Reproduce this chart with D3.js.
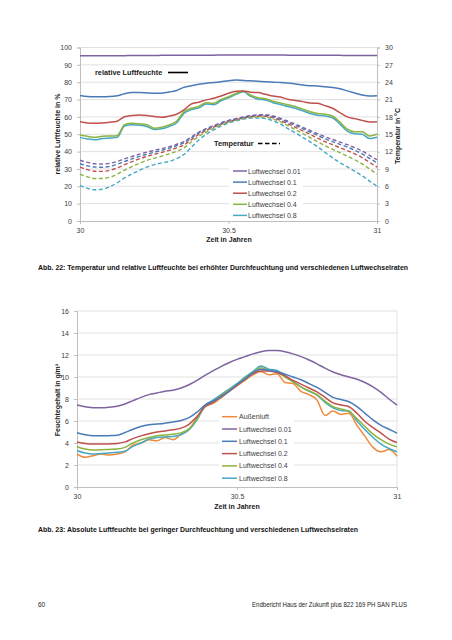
<!DOCTYPE html>
<html><head><meta charset="utf-8">
<script src="https://cdn.jsdelivr.net/npm/d3@7"></script>
<style>
html,body{margin:0;padding:0;background:#fff;}
svg text{font-family:"Liberation Sans",Arial,sans-serif;}
</style></head>
<body>
<svg id="c" width="452" height="640"></svg>
<script>
// ---------- DATA ----------
const time = [30,30.025,30.05,30.075,30.1,30.125,30.15,30.175,30.2,30.225,30.25,30.275,30.3,30.325,30.35,30.375,30.4,30.425,30.45,30.475,30.5,30.525,30.55,30.575,30.6,30.625,30.65,30.675,30.7,30.725,30.75,30.775,30.8,30.825,30.85,30.875,30.9,30.925,30.95,30.975,31];
const seriesNames = ["Luftwechsel 0.01","Luftwechsel 0.1","Luftwechsel 0.2","Luftwechsel 0.4","Luftwechsel 0.8"];
const seriesColors = ["#7f63a1","#4a7ab8","#c0504d","#8db33f","#45a8c4"];
const outdoorName = "Außenluft";
const outdoorColor = "#f08a3a";

// Chart 1: relative humidity (%)
const rh001 = [95.3,95.3,95.3,95.3,95.3,95.3,95.3,95.4,95.4,95.4,95.4,95.5,95.5,95.5,95.5,95.6,95.6,95.6,95.6,95.7,95.7,95.7,95.7,95.7,95.7,95.7,95.7,95.7,95.6,95.6,95.6,95.6,95.5,95.5,95.5,95.5,95.4,95.4,95.4,95.4,95.4];
const rh01 = [72.4,71.8,71.6,71.6,71.7,72.2,73.4,74.0,74.0,73.8,73.6,73.7,74.3,75.2,77.0,78.0,78.8,79.4,79.8,80.3,80.9,81.2,81.0,80.8,80.6,80.2,80.0,79.8,79.6,79.0,78.4,78.0,77.8,77.4,77.0,76.2,75.0,73.8,72.6,72.0,72.2];
const rh02 = [57.2,56.5,56.3,56.5,56.9,57.5,60.1,60.8,61.1,60.8,60.2,59.8,60.5,61.5,64.0,67.5,68.5,69.8,70.7,72.0,73.6,74.8,75.0,74.2,74.0,73.0,72.0,71.5,70.2,69.5,68.8,68.0,67.8,66.5,65.0,62.5,60.0,59.0,58.0,57.0,57.2];
const rh04 = [49.6,48.8,48.2,48.8,49.0,49.2,55.5,56.3,56.0,55.5,53.5,54.0,55.3,57.5,63.0,65.0,66.0,68.2,67.8,70.0,71.6,73.5,75.0,72.5,71.0,70.5,69.0,68.0,67.0,66.0,64.5,63.0,62.0,61.5,60.5,57.0,53.0,51.5,51.5,49.0,50.0];
const rh08 = [48.2,47.3,46.8,47.5,47.8,48.2,54.8,55.5,55.2,54.5,52.8,53.2,54.5,56.5,62.0,64.2,65.2,67.5,67.0,69.3,71.0,73.0,74.5,71.8,70.2,69.8,68.2,67.2,66.0,65.0,63.5,62.0,61.0,60.5,59.5,56.0,51.8,50.3,50.0,47.5,48.3];
// Chart 1: temperature (°C)
const t001 = [10.5,10.14,9.9,9.84,9.96,10.29,10.74,11.16,11.55,11.91,12.21,12.51,12.84,13.26,13.74,14.55,15.36,15.99,16.5,16.98,17.4,17.7,18.0,18.24,18.36,18.36,18.15,17.76,17.25,16.74,16.2,15.66,15.09,14.55,14.1,13.65,13.2,12.69,12.09,11.34,10.59];
const t01 = [9.9,9.54,9.33,9.3,9.45,9.81,10.29,10.74,11.16,11.55,11.88,12.21,12.57,13.02,13.53,14.37,15.21,15.87,16.38,16.89,17.31,17.61,17.91,18.15,18.27,18.27,18.03,17.61,17.07,16.53,15.96,15.39,14.79,14.22,13.74,13.26,12.78,12.24,11.61,10.83,10.05];
const t02 = [9.3,8.88,8.61,8.58,8.76,9.18,9.75,10.26,10.74,11.16,11.52,11.85,12.21,12.66,13.17,14.07,14.97,15.66,16.23,16.74,17.19,17.52,17.82,18.06,18.15,18.12,17.85,17.4,16.8,16.2,15.6,14.97,14.34,13.71,13.2,12.69,12.18,11.61,10.95,10.14,9.33];
const t04 = [8.1,7.62,7.35,7.35,7.56,8.1,8.79,9.42,9.99,10.47,10.86,11.22,11.61,12.06,12.63,13.65,14.64,15.42,16.05,16.62,17.1,17.43,17.73,17.94,18.0,17.94,17.64,17.13,16.47,15.81,15.12,14.43,13.71,13.02,12.42,11.82,11.22,10.59,9.87,9.0,8.13];
const t08 = [6.15,5.64,5.4,5.49,5.91,6.6,7.44,8.16,8.76,9.33,9.75,10.05,10.29,10.77,11.49,12.75,14.01,15.0,15.75,16.41,16.95,17.31,17.61,17.79,17.82,17.7,17.34,16.74,15.99,15.24,14.46,13.68,12.84,11.85,10.95,10.11,9.36,8.61,7.8,6.9,6.0];

// Chart 2: absolute humidity (g/m³)
const ahOut = [3.0,2.7,2.85,3.0,2.9,3.0,3.2,3.8,4.0,4.3,4.2,4.5,4.3,4.8,5.2,6.3,7.3,7.6,8.1,8.7,9.2,9.7,10.2,10.5,10.2,10.3,9.5,9.4,8.7,8.4,7.9,6.5,6.9,6.6,6.7,5.6,4.6,3.6,3.2,3.4,2.8];
const ah001 = [7.45,7.3,7.2,7.2,7.25,7.35,7.55,7.85,8.15,8.4,8.55,8.7,8.8,9.0,9.3,9.7,10.15,10.55,10.95,11.3,11.6,11.85,12.1,12.3,12.4,12.4,12.3,12.1,11.85,11.55,11.2,10.8,10.45,10.2,10.0,9.8,9.5,9.1,8.6,8.0,7.45];
const ah01 = [4.94,4.75,4.65,4.65,4.67,4.7,4.95,5.25,5.5,5.65,5.72,5.8,5.9,6.05,6.3,6.8,7.45,7.8,8.2,8.7,9.3,9.8,10.4,10.7,10.6,10.5,10.25,10.0,9.75,9.4,9.05,8.6,8.15,7.95,7.75,7.3,6.7,6.1,5.6,5.25,4.9];
const ah02 = [4.1,3.95,3.9,3.9,3.92,3.95,4.1,4.4,4.65,4.85,5.0,5.1,5.2,5.35,5.7,6.4,7.3,7.7,8.25,8.7,9.25,9.8,10.3,10.55,10.55,10.4,10.1,9.7,9.35,9.0,8.65,8.15,7.65,7.45,7.3,6.7,5.95,5.4,4.9,4.35,4.05];
const ah04 = [3.66,3.45,3.36,3.38,3.42,3.45,3.6,4.0,4.3,4.5,4.65,4.72,4.8,4.92,5.3,6.2,7.35,7.7,8.3,8.8,9.3,9.9,10.4,10.85,10.6,10.45,10.0,9.55,9.1,8.75,8.4,7.8,7.3,7.1,6.85,6.2,5.5,4.8,4.3,3.9,3.66];
const ah08 = [3.3,3.1,3.0,3.05,3.1,3.15,3.25,3.7,4.0,4.35,4.5,4.55,4.6,4.75,5.2,6.1,7.4,7.9,8.4,8.9,9.4,10.0,10.5,11.0,10.7,10.6,10.1,9.6,9.1,8.7,8.35,7.7,7.2,6.95,6.9,6.0,5.2,4.5,3.9,3.5,3.2];

const xTicks = [30,30.5,31];
const rhTicks = [0,10,20,30,40,50,60,70,80,90,100];
const tempTicks = [0,3,6,9,12,15,18,21,24,27,30];
const ahTicks = [0,2,4,6,8,10,12,14,16];

const caption1 = "Abb. 22: Temperatur und relative Luftfeuchte bei erhöhter Durchfeuchtung und verschiedenen Luftwechselraten";
const caption2 = "Abb. 23: Absolute Luftfeuchte bei geringer Durchfeuchtung und verschiedenen Luftwechselraten";
const footerLeft = "60";
const footerRight = "Endbericht Haus der Zukunft plus 822 169 PH SAN PLUS";

// ---------- DRAW ----------
const svg = d3.select("#c");
const grid = "#d9d9d9", axisCol = "#bfbfbf", txt = "#404040";
const fs = 7;

function lineGen(x, y) {
  return d3.line().x((d,i)=>x(time[i])).y(d=>y(d)).curve(d3.curveMonotoneX);
}

// ===== Chart 1 =====
{
  const x = d3.scaleLinear().domain([30,31]).range([80,377]);
  const y = d3.scaleLinear().domain([0,100]).range([221,47.5]);
  const yr = d3.scaleLinear().domain([0,30]).range([221,47.5]);
  const g = svg.append("g");
  g.selectAll("line.grid").data(rhTicks.filter(v=>v>0)).join("line")
    .attr("x1",80).attr("x2",377).attr("y1",d=>y(d)).attr("y2",d=>y(d))
    .attr("stroke",grid).attr("stroke-width",0.8);
  // axes
  const ax = g.append("g").attr("transform","translate(0,221)").call(d3.axisBottom(x).tickValues(xTicks).tickSize(3).tickFormat(d3.format("")));
  const ay = g.append("g").attr("transform","translate(80,0)").call(d3.axisLeft(y).tickValues(rhTicks).tickSize(3));
  const ayr = g.append("g").attr("transform","translate(377,0)").call(d3.axisRight(yr).tickValues(tempTicks).tickSize(3));
  [ax,ay,ayr].forEach(a=>{
    a.selectAll("path,line").attr("stroke",axisCol);
    a.selectAll("text").attr("fill",txt).style("font-size",fs+"px");
  });
  ax.selectAll("text").attr("dy","0.9em");
  ay.selectAll("text").attr("dx","-2");
  ayr.selectAll("text").attr("dx","2");

  // temperature dashed
  const temps = [t001,t01,t02,t04,t08];
  for (let k=4;k>=0;k--) {
    g.append("path").datum(temps[k]).attr("d",lineGen(x,yr))
      .attr("fill","none").attr("stroke",seriesColors[k]).attr("stroke-width",1.4)
      .attr("stroke-dasharray","4,2.5");
  }
  // RH solid
  const rhs = [rh001,rh01,rh02,rh04,rh08];
  for (let k=4;k>=0;k--) {
    g.append("path").datum(rhs[k]).attr("d",lineGen(x,y))
      .attr("fill","none").attr("stroke",seriesColors[k]).attr("stroke-width",1.5);
  }
  // annotations
  g.append("text").attr("x",95).attr("y",75).text("relative Luftfeuchte")
    .style("font-size","7.3px").style("font-weight","bold").attr("fill","#1a1a1a");
  g.append("line").attr("x1",168).attr("x2",188).attr("y1",72.5).attr("y2",72.5).attr("stroke","#000").attr("stroke-width",1.6);
  g.append("text").attr("x",214).attr("y",146).text("Temperatur")
    .style("font-size","7.3px").style("font-weight","bold").attr("fill","#1a1a1a");
  g.append("line").attr("x1",258).attr("x2",280).attr("y1",143.5).attr("y2",143.5).attr("stroke","#000").attr("stroke-width",1.6).attr("stroke-dasharray","4.5,2.5");

  // legend
  g.append("rect").attr("x",229).attr("y",165).attr("width",74).attr("height",56).attr("fill","#fff");
  seriesNames.forEach((n,i)=>{
    const yy = 171 + i*11.1;
    g.append("line").attr("x1",233).attr("x2",247).attr("y1",yy).attr("y2",yy).attr("stroke",seriesColors[i]).attr("stroke-width",1.5);
    g.append("text").attr("x",248).attr("y",yy+2.5).text(n).style("font-size",fs+"px").attr("fill",txt);
  });
  // axis titles
  g.append("text").attr("x",229).attr("y",242).attr("text-anchor","middle").text("Zeit in Jahren")
    .style("font-size","7px").style("font-weight","bold").attr("fill","#1a1a1a");
  g.append("text").attr("transform","translate(60,134) rotate(-90)").attr("text-anchor","middle").text("relative Luftfeuchte in %")
    .style("font-size","7px").style("font-weight","bold").attr("fill","#1a1a1a");
  g.append("text").attr("transform","translate(400,136) rotate(-90)").attr("text-anchor","middle").text("Temperatur in °C")
    .style("font-size","7px").style("font-weight","bold").attr("fill","#1a1a1a");
}

// ===== Chart 2 =====
{
  const x = d3.scaleLinear().domain([30,31]).range([77,397]);
  const y = d3.scaleLinear().domain([0,16]).range([487,311]);
  const g = svg.append("g");
  g.selectAll("line.grid").data(ahTicks.filter(v=>v>0)).join("line")
    .attr("x1",77).attr("x2",397).attr("y1",d=>y(d)).attr("y2",d=>y(d))
    .attr("stroke",grid).attr("stroke-width",0.8);
  g.append("line").attr("x1",397).attr("x2",397).attr("y1",311).attr("y2",487).attr("stroke",grid).attr("stroke-width",0.8);
  const ax = g.append("g").attr("transform","translate(0,487)").call(d3.axisBottom(x).tickValues(xTicks).tickSize(3).tickFormat(d3.format("")));
  const ay = g.append("g").attr("transform","translate(77,0)").call(d3.axisLeft(y).tickValues(ahTicks).tickSize(3));
  [ax,ay].forEach(a=>{
    a.selectAll("path,line").attr("stroke",axisCol);
    a.selectAll("text").attr("fill",txt).style("font-size",fs+"px");
  });
  ax.selectAll("text").attr("dy","0.9em");
  ay.selectAll("text").attr("dx","-2");

  const all = [ah001,ah01,ah02,ah04,ah08];
  g.append("path").datum(ahOut).attr("d",lineGen(x,y)).attr("fill","none").attr("stroke",outdoorColor).attr("stroke-width",1.5);
  for (let k=4;k>=0;k--) {
    g.append("path").datum(all[k]).attr("d",lineGen(x,y))
      .attr("fill","none").attr("stroke",seriesColors[k]).attr("stroke-width",1.5);
  }
  // legend
  g.append("rect").attr("x",219).attr("y",410).attr("width",75).attr("height",76).attr("fill","#fff");
  const names = [outdoorName].concat(seriesNames);
  const cols = [outdoorColor].concat(seriesColors);
  names.forEach((n,i)=>{
    const yy = 416.7 + i*12.3;
    g.append("line").attr("x1",222).attr("x2",237).attr("y1",yy).attr("y2",yy).attr("stroke",cols[i]).attr("stroke-width",1.5);
    g.append("text").attr("x",239).attr("y",yy+2.5).text(n).style("font-size",fs+"px").attr("fill",txt);
  });
  g.append("text").attr("x",237).attr("y",509).attr("text-anchor","middle").text("Zeit in Jahren")
    .style("font-size","7px").style("font-weight","bold").attr("fill","#1a1a1a");
  g.append("text").attr("transform","translate(60,400) rotate(-90)").attr("text-anchor","middle").text("Feuchtegehalt in g/m³")
    .style("font-size","7px").style("font-weight","bold").attr("fill","#1a1a1a");
}

// ===== Captions & footer =====
svg.append("text").attr("x",38).attr("y",269.5).text(caption1)
  .attr("textLength",370).attr("lengthAdjust","spacingAndGlyphs")
  .style("font-size","6.7px").style("font-weight","bold").attr("fill","#111");
svg.append("text").attr("x",38).attr("y",531.5).text(caption2)
  .attr("textLength",320).attr("lengthAdjust","spacingAndGlyphs")
  .style("font-size","6.7px").style("font-weight","bold").attr("fill","#111");
svg.append("text").attr("x",38).attr("y",607).text(footerLeft)
  .style("font-size","6.5px").attr("fill","#222");
svg.append("text").attr("x",252).attr("y",607).text(footerRight)
  .attr("textLength",155).attr("lengthAdjust","spacingAndGlyphs")
  .style("font-size","6.5px").attr("fill","#222");
</script>
</body></html>
